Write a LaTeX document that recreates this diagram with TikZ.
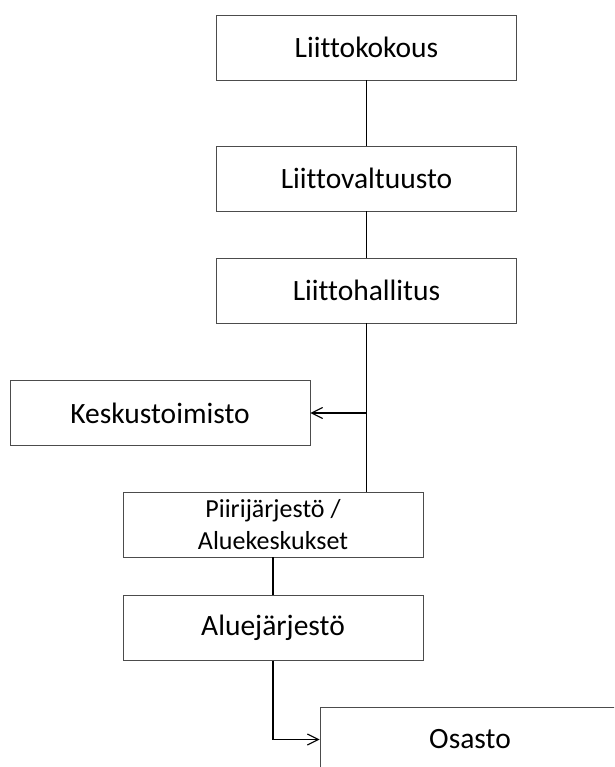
\documentclass[tikz,border=0pt]{standalone}
\usepackage{fontspec}
\setmainfont[Ligatures=NoCommon]{Carlito}
\usetikzlibrary{arrows.meta}
\begin{document}
\begin{tikzpicture}[x=1pt,y=-1pt,
  orgbox/.style={draw=black!70, line width=0.9pt, fill=white, rectangle,
    minimum width=300pt, minimum height=65pt, inner sep=0pt,
    font=\fontsize{29.5}{34}\selectfont, align=center},
  smallbox/.style={orgbox, font=\fontsize{26}{32}\selectfont},
  link/.style={draw=black, line width=1.2pt},
  arrowlink/.style={link, -{Straight Barb[length=11pt,width=11pt,line width=1.1pt]}}]
\useasboundingbox (0,0) rectangle (614,767);
\clip (0,0) rectangle (614,767);
\fill[white] (0,0) rectangle (614,767);
\node[orgbox] (kok) at (366.5,47.5) {Liittokokous};
\node[orgbox] (val) at (366.5,178.5) {Liittovaltuusto};
\node[orgbox] (hal) at (366.5,290.5) {Liittohallitus};
\node[orgbox] (kes) at (160,413) {Keskustoimisto};
\node[smallbox] (pii) at (273,524.5) {Piirijärjestö /\\Aluekeskukset};
\node[orgbox] (alu) at (273,628) {Aluejärjestö};
\node[orgbox] (osa) at (470,739.5) {Osasto};
\draw[link] (kok.south) -- (val.north);
\draw[link] (val.south) -- (hal.north);
\draw[link] (hal.south) -- (hal.south |- pii.north);
\coordinate (j) at (hal.south |- kes.east);
\draw[arrowlink] (j) -- (kes.east);
\draw[link] (pii.south) -- (alu.north);
\draw[arrowlink] (alu.south) |- (osa.west);
\end{tikzpicture}
\end{document}
